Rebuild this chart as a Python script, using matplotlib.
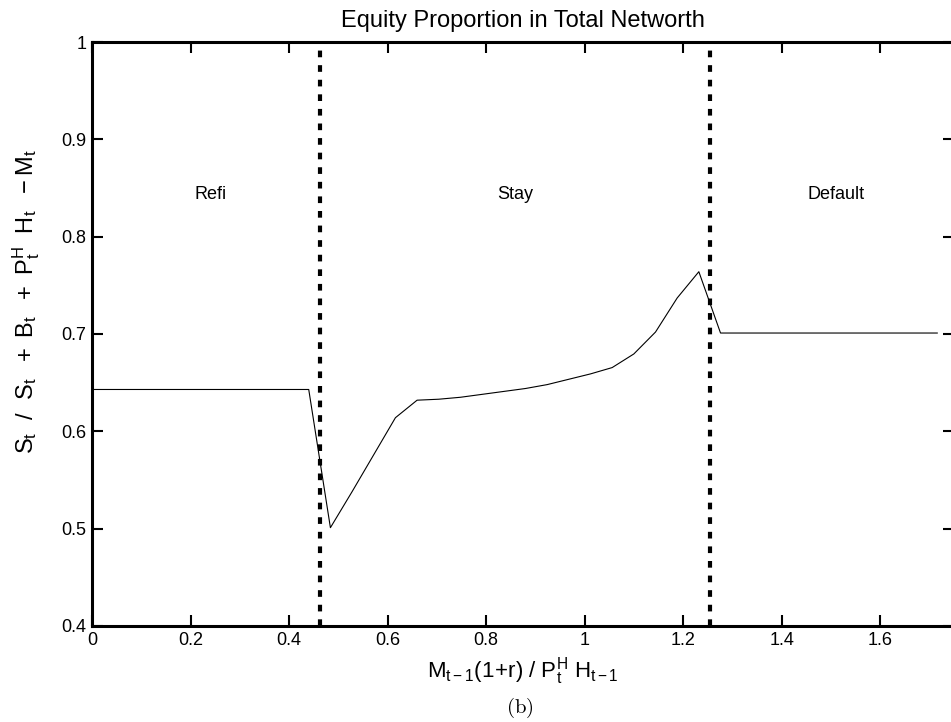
import numpy as np
import matplotlib
matplotlib.use('Agg')
import matplotlib.pyplot as plt

plt.rcParams['font.family'] = ['Liberation Sans', 'DejaVu Sans']
plt.rcParams['mathtext.fontset'] = 'custom'
plt.rcParams['mathtext.rm'] = 'Liberation Sans'
plt.rcParams['mathtext.it'] = 'Liberation Sans'
plt.rcParams['mathtext.bf'] = 'Liberation Sans:bold'

# ratio grid (step 0.044) and equity share
ratio = [0.0, 0.044, 0.088, 0.132, 0.176, 0.22, 0.264, 0.308, 0.352, 0.396,
         0.44, 0.484, 0.528, 0.572, 0.616, 0.66, 0.704, 0.748, 0.792, 0.836,
         0.88, 0.924, 0.968, 1.012, 1.056, 1.10, 1.144, 1.188, 1.232, 1.276,
         1.32, 1.364, 1.408, 1.452, 1.496, 1.54, 1.584, 1.628, 1.672, 1.716]
equity_share = [0.643, 0.643, 0.643, 0.643, 0.643, 0.643, 0.643, 0.643, 0.643, 0.643,
                0.643, 0.501, 0.538, 0.576, 0.614, 0.632, 0.633, 0.635, 0.638, 0.641,
                0.644, 0.648, 0.6535, 0.659, 0.6655, 0.6795, 0.702, 0.737, 0.764, 0.701,
                0.701, 0.701, 0.701, 0.701, 0.701, 0.701, 0.701, 0.701, 0.701, 0.701]

cutoffs = [0.462, 1.254]
regions = ['Refi', 'Stay', 'Default']
region_x = [0.24, 0.86, 1.51]

fig = plt.figure(figsize=(9.51, 7.22), dpi=100)
ax = fig.add_axes([92 / 951, 1 - 626 / 722, (954 - 92) / 951, (626 - 42) / 722])

ax.plot(ratio, equity_share, color='black', linewidth=0.8)
for c in cutoffs:
    ax.axvline(c, color='black', linewidth=3, dashes=(1.6, 1.9))

for name, xr in zip(regions, region_x):
    ax.text(xr, 0.843, name, ha='center', va='center', fontsize=13)

ax.set_xlim(0, 1.75)
ax.set_ylim(0.4, 1.0)
ax.set_xticks(np.arange(0, 1.61, 0.2))
ax.set_xticklabels(['0', '0.2', '0.4', '0.6', '0.8', '1', '1.2', '1.4', '1.6'])
ax.set_yticks(np.arange(0.4, 1.01, 0.1))
ax.set_yticklabels(['0.4', '0.5', '0.6', '0.7', '0.8', '0.9', '1'])
ax.tick_params(direction='in', length=8, width=1.5, top=True, right=True,
               labelsize=13, pad=4)
for s in ax.spines.values():
    s.set_linewidth(2.2)

ax.set_title('Equity Proportion in Total Networth', fontsize=17, pad=11)
ax.set_xlabel(r'$\mathrm{M_{t-1}(1\!+\!r)\ /\ P^H_t\ H_{t-1}}$', fontsize=16, labelpad=5)
ax.set_ylabel(r'$\mathrm{S_t\ \ /\ \ S_t\ \ +\ B_t\ \ +\ P^H_t\ \ H_t\ \ -M_t}$',
              fontsize=17)
ax.yaxis.set_label_coords(-0.058, 0.555)

fig.text(520 / 951, 1 - 708 / 722, r'$\mathrm{(b)}$', ha='center', va='center',
         fontsize=15, math_fontfamily='cm')

fig.savefig('out.png', dpi=100)
